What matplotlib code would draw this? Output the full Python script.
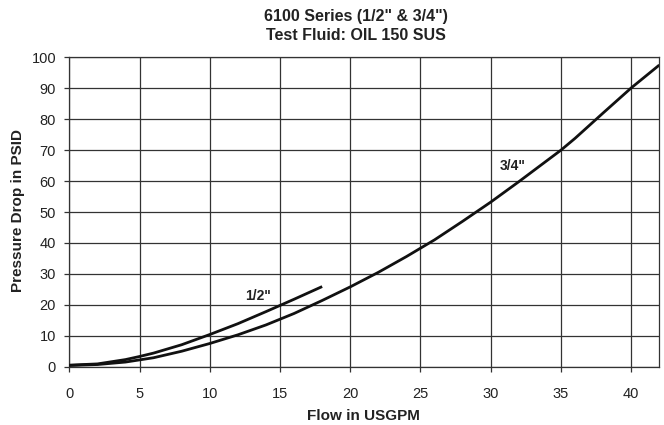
import matplotlib
matplotlib.use("Agg")
import matplotlib.pyplot as plt

plt.rcParams['font.family'] = ['Liberation Sans', 'DejaVu Sans']

flow_half = [0, 2, 4, 5, 6, 8, 10, 12, 14, 15, 16, 18]
dp_half = [0.5, 0.9, 2.3, 3.3, 4.4, 7.1, 10.4, 13.9, 17.8, 19.8, 21.8, 25.9]

flow_three = [0, 2, 4, 6, 8, 10, 12, 14, 16, 18, 20, 22, 24, 26, 28, 30, 32, 34, 35, 36, 38, 40, 42]
dp_three = [0.4, 0.7, 1.5, 2.9, 5.0, 7.5, 10.3, 13.5, 17.2, 21.4, 25.8, 30.5, 35.6, 41.0, 47.0, 53.2, 59.8, 66.6, 70.0, 73.8, 82.0, 90.1, 97.5]

x_ticks = [0, 5, 10, 15, 20, 25, 30, 35, 40]
y_ticks = [0, 10, 20, 30, 40, 50, 60, 70, 80, 90, 100]

W, H = 664, 425
fig = plt.figure(figsize=(W / 100, H / 100), dpi=100)
ax = fig.add_axes([69.3 / W, 1 - 366.7 / H, (659.3 - 69.3) / W, (366.7 - 57.3) / H])

ax.plot(flow_half, dp_half, color='#111111', lw=2.0, solid_capstyle='butt', zorder=3)
ax.plot(flow_three, dp_three, color='#111111', lw=2.0, solid_capstyle='butt', zorder=3)

ax.set_xlim(0, 42)
ax.set_ylim(0, 100)
ax.set_xticks(x_ticks)
ax.set_yticks(y_ticks)
ax.grid(True, color='#333333', lw=0.9)
ax.tick_params(axis='both', length=3.5, width=0.9, color='#333333', labelsize=10.5, labelcolor='#222222')
ax.tick_params(axis='y', pad=6)
ax.tick_params(axis='x', pad=11)
for s in ax.spines.values():
    s.set_color('#333333')
    s.set_linewidth(0.9)

ax.text(13.4, 22.7, '1/2"', fontsize=10, fontweight='bold', ha='center', va='center', color='#222222')
ax.text(31.56, 64.85, '3/4"', fontsize=10, fontweight='bold', ha='center', va='center', color='#222222')

fig.text(356 / W, 1 - 16 / H, '6100 Series (1/2" & 3/4")', fontsize=11.5, fontweight='bold', ha='center', va='center', color='#222222')
fig.text(356 / W, 1 - 35.5 / H, 'Test Fluid: OIL 150 SUS', fontsize=11.5, fontweight='bold', ha='center', va='center', color='#222222')
fig.text(363.5 / W, 1 - 416.5 / H, 'Flow in USGPM', fontsize=11, fontweight='bold', ha='center', va='center', color='#222222')
fig.text(17.7 / W, 1 - 211 / H, 'Pressure Drop in PSID', fontsize=11, fontweight='bold', ha='center', va='center', rotation=90, color='#222222')

fig.savefig('out.png', dpi=100)
